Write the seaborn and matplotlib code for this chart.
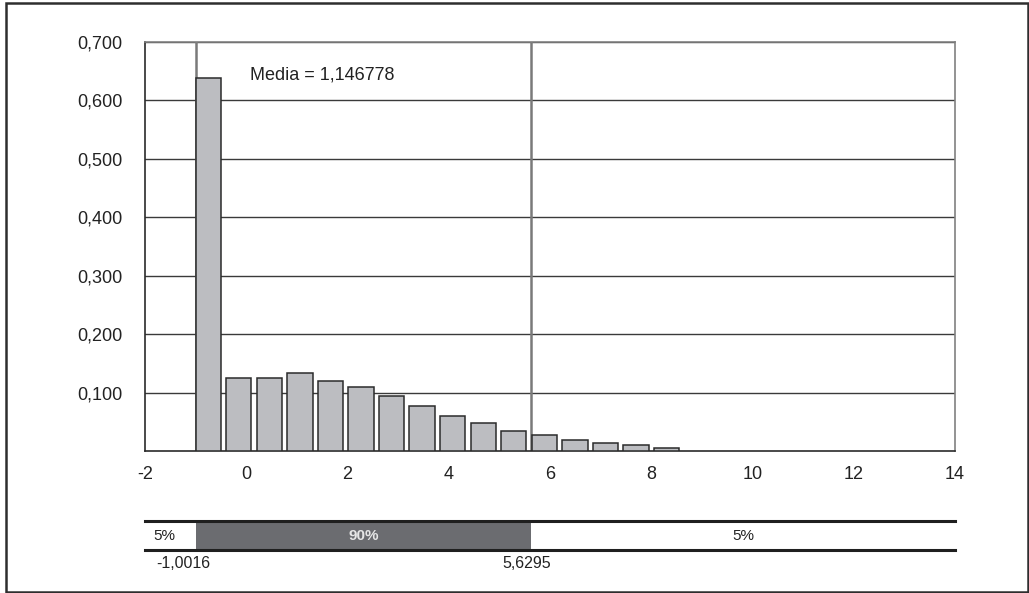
import numpy as np
import pandas as pd
import matplotlib
matplotlib.use("Agg")
import matplotlib.pyplot as plt
import matplotlib.patches as mpatches
import seaborn as sns

# ---------------- data ----------------
bin_centers = [-0.752, -0.148, 0.456, 1.059, 1.663, 2.266, 2.870, 3.474,
               4.077, 4.681, 5.284, 5.888, 6.492, 7.095, 7.699, 8.302]
heights = [0.638, 0.1255, 0.1255, 0.133, 0.119, 0.110, 0.0947, 0.0765,
           0.0594, 0.048, 0.0337, 0.0275, 0.0185, 0.0132, 0.0098, 0.0046]
xticks = [-2, 0, 2, 4, 6, 8, 10, 12, 14]
xtick_labels = ["-2", "0", "2", "4", "6", "8", "10", "12", "14"]
yticks = [0.1, 0.2, 0.3, 0.4, 0.5, 0.6, 0.7]
ytick_labels = ["0,100", "0,200", "0,300", "0,400", "0,500", "0,600", "0,700"]
p5 = -1.0016
p95 = 5.6295
p5_label = "-1,0016"
p95_label = "5,6295"
mean_label = "Media = 1,146778"
band_labels = ["5%", "90%", "5%"]

# ---------------- style ----------------
sns.set_style("white")
plt.rcParams["font.family"] = ["Liberation Sans", "DejaVu Sans"]

W, H = 1029, 593
fig = plt.figure(figsize=(W / 100, H / 100), dpi=100)
fig.patch.set_facecolor("white")

def fx(px):
    return px / W

def fy(py):
    return 1 - py / H

# main axes: x 145..955, y 42..451
ax = fig.add_axes([fx(145), fy(451), fx(955) - fx(145), fy(42) - fy(451)])

df = pd.DataFrame({"x": bin_centers, "y": heights})
sns.barplot(data=df, x="x", y="y", native_scale=True, width=0.83,
            color="#bcbdc1", saturation=1, edgecolor="#2b2b2b",
            linewidth=1.1, ax=ax, zorder=3)

ax.set_xlim(-2, 14)
ax.set_ylim(0, 0.7)
ax.set_xticks(xticks)
ax.set_xticklabels(xtick_labels)
ax.set_yticks(yticks)
ax.set_yticklabels(ytick_labels)
ax.set_xlabel("")
ax.set_ylabel("")

ax.set_axisbelow(True)
ax.yaxis.grid(True, color="#3a3a3a", linewidth=1.0, zorder=0.5)
ax.xaxis.grid(False)

ax.axvline(p5, color="#7a7a7a", linewidth=1.8, zorder=2.5)
ax.axvline(p95, color="#7a7a7a", linewidth=1.8, zorder=2.5)

ax.tick_params(axis="y", length=0, pad=16, labelsize=13, colors="#222222")
ax.tick_params(axis="x", length=5.5, width=1, color="#333333", pad=5,
               labelsize=13, labelcolor="#222222", direction="out")

for side in ["left", "bottom"]:
    ax.spines[side].set_color("#2a2a2a")
    ax.spines[side].set_linewidth(1.2)
for side in ["top", "right"]:
    ax.spines[side].set_color("#808080")
    ax.spines[side].set_linewidth(1.2)
    ax.spines[side].set_visible(True)

ax.text(0.07, 0.643, mean_label, ha="left", va="center", fontsize=13,
        color="#222222", zorder=5)

# band axes: y 521..550
bax = fig.add_axes([fx(145), fy(550), fx(955) - fx(145), fy(521) - fy(550)])
bax.set_xlim(-2, 14)
bax.set_ylim(0, 1)
bax.axvspan(p5, p95, ymin=0, ymax=1, color="#6b6c70", lw=0)
bax.set_xticks([])
bax.set_yticks([])
for side in ["left", "right"]:
    bax.spines[side].set_visible(False)
for side in ["top", "bottom"]:
    bax.spines[side].set_visible(True)
    bax.spines[side].set_color("#1f1f1f")
    bax.spines[side].set_linewidth(2.2)

bax.text((-2 + p5) / 2 - 0.12, 0.5, band_labels[0], ha="center", va="center",
         fontsize=11, color="#222222")
bax.text((p5 + p95) / 2, 0.5, band_labels[1], ha="center", va="center",
         fontsize=11, color="#e6e6e6", fontweight="bold")
bax.text((p95 + 14) / 2, 0.5, band_labels[2], ha="center", va="center",
         fontsize=11, color="#222222")

bax.annotate(p5_label, xy=(p5, 0), xycoords="data", xytext=(-9, -10),
             textcoords="offset points", ha="center", va="center",
             fontsize=11.5, color="#222222", annotation_clip=False)
bax.annotate(p95_label, xy=(p95, 0), xycoords="data", xytext=(-3, -10),
             textcoords="offset points", ha="center", va="center",
             fontsize=11.5, color="#222222", annotation_clip=False)

# outer frame
frame = mpatches.Rectangle((fx(6), fy(591.5)), fx(1027.5) - fx(6),
                           fy(3) - fy(591.5),
                           transform=fig.transFigure, fill=False,
                           edgecolor="#2e2e2e", linewidth=1.8)
fig.patches.append(frame)

fig.savefig("out.png", dpi=100, facecolor="white")
